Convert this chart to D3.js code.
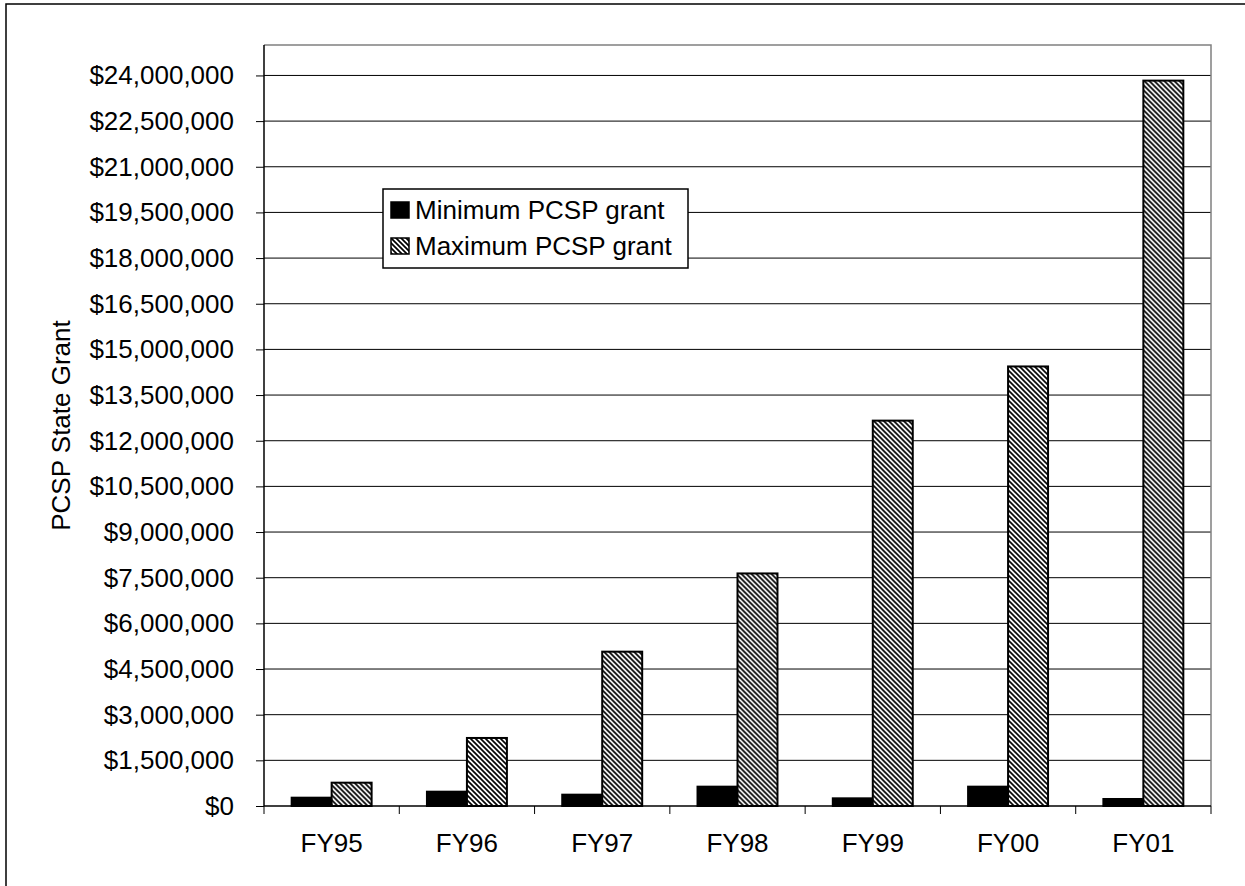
<!DOCTYPE html>
<html>
<head>
<meta charset="utf-8">
<script src="https://cdn.jsdelivr.net/npm/d3@7"></script>
<style>
  body { margin: 0; background: #fff; }
  svg { display: block; font-family: "Liberation Sans", Arial, sans-serif; }
</style>
</head>
<body>
<div id="chart"></div>
<script>
// chart data
const categories = ["FY95", "FY96", "FY97", "FY98", "FY99", "FY00", "FY01"];
const seriesNames = ["Minimum PCSP grant", "Maximum PCSP grant"];
const minGrant = [273000, 470000, 372000, 635000, 252000, 635000, 230000];
const maxGrant = [766000, 2235000, 5070000, 7640000, 12660000, 14440000, 23830000];
const yTicks = d3.range(0, 24000001, 1500000);
const yTitle = "PCSP State Grant";

const width = 1245, height = 886;
const plot = { left: 264, top: 45, right: 1211, bottom: 806 };

const svg = d3.select("#chart").append("svg")
    .attr("width", width)
    .attr("height", height);

// hatch pattern for the max series
const defs = svg.append("defs");
const pat = defs.append("pattern")
    .attr("id", "hatch")
    .attr("patternUnits", "userSpaceOnUse")
    .attr("width", 5).attr("height", 5);
pat.append("rect").attr("width", 5).attr("height", 5).attr("fill", "#fff");
pat.append("path")
    .attr("d", "M-1,-1 L6,6 M-4,1 L1,6 M4,-1 L6,1")
    .attr("stroke", "#000")
    .attr("stroke-width", 1.7);

// outer chart border
svg.append("rect")
    .attr("x", 6).attr("y", 4)
    .attr("width", width + 10).attr("height", height + 10)
    .attr("fill", "none")
    .attr("stroke", "#000")
    .attr("stroke-width", 1.5);

const x0 = d3.scaleBand()
    .domain(categories)
    .range([plot.left, plot.right])
    .paddingInner(0.409)
    .paddingOuter(0.2045);

const x1 = d3.scaleBand()
    .domain(seriesNames)
    .range([0, x0.bandwidth()]);

const y = d3.scaleLinear()
    .domain([0, 25000000])
    .range([plot.bottom, plot.top]);

const fmt = v => "$" + d3.format(",")(v);

// gridlines
svg.append("g")
    .selectAll("line")
    .data(yTicks.filter(d => d > 0))
    .enter().append("line")
    .attr("x1", plot.left).attr("x2", plot.right)
    .attr("y1", d => y(d)).attr("y2", d => y(d))
    .attr("stroke", "#000")
    .attr("stroke-width", 1);

// plot area border (top and right)
svg.append("path")
    .attr("d", `M${plot.left},${plot.top} H${plot.right} V${plot.bottom}`)
    .attr("fill", "none")
    .attr("stroke", "#808080")
    .attr("stroke-width", 1.5);

// bars
const rows = categories.map((c, i) => ({ cat: c, vals: [minGrant[i], maxGrant[i]] }));
const groups = svg.append("g")
    .selectAll("g")
    .data(rows)
    .enter().append("g")
    .attr("transform", d => "translate(" + x0(d.cat) + ",0)");

groups.selectAll("rect")
    .data(d => d.vals.map((v, k) => ({ key: seriesNames[k], k: k, v: v })))
    .enter().append("rect")
    .attr("x", d => x1(d.key))
    .attr("width", x1.bandwidth())
    .attr("y", d => y(d.v))
    .attr("height", d => plot.bottom - y(d.v))
    .attr("fill", d => d.k === 0 ? "#000" : "url(#hatch)")
    .attr("stroke", "#000")
    .attr("stroke-width", 2);

// y axis
const yAxis = svg.append("g")
    .attr("transform", "translate(" + plot.left + ",0)")
    .call(d3.axisLeft(y).tickValues(yTicks).tickFormat(fmt).tickSize(8).tickPadding(22));
yAxis.select(".domain").attr("d", `M0,${plot.top}V${plot.bottom}`).attr("stroke", "#000").attr("stroke-width", 1.5);
yAxis.selectAll("text").attr("font-size", 26).attr("fill", "#000")
    .attr("font-family", "'Liberation Sans', Arial, sans-serif");

// x axis: ticks at category boundaries
const xAxis = svg.append("g")
    .attr("transform", "translate(0," + plot.bottom + ")");
xAxis.append("line")
    .attr("x1", plot.left).attr("x2", plot.right)
    .attr("stroke", "#000").attr("stroke-width", 1.5);
const step = x0.step();
xAxis.selectAll(".tick")
    .data(d3.range(categories.length + 1))
    .enter().append("line")
    .attr("x1", i => plot.left + i * step).attr("x2", i => plot.left + i * step)
    .attr("y1", 0).attr("y2", 8)
    .attr("stroke", "#000").attr("stroke-width", 1);
xAxis.selectAll("text")
    .data(categories)
    .enter().append("text")
    .attr("x", d => x0(d) + x0.bandwidth() / 2)
    .attr("y", 46)
    .attr("text-anchor", "middle")
    .attr("font-size", 26)
    .text(d => d);

// y axis title
svg.append("text")
    .attr("transform", "translate(70," + ((plot.top + plot.bottom) / 2) + ") rotate(-90)")
    .attr("text-anchor", "middle")
    .attr("font-size", 26)
    .text(yTitle);

// legend
const legend = svg.append("g").attr("transform", "translate(383,189)");
legend.append("rect")
    .attr("width", 305).attr("height", 79)
    .attr("fill", "#fff")
    .attr("stroke", "#000")
    .attr("stroke-width", 1.5);
seriesNames.forEach((name, k) => {
    const row = legend.append("g").attr("transform", "translate(0," + (k * 36) + ")");
    row.append("rect")
        .attr("x", 8).attr("y", 13)
        .attr("width", 18).attr("height", 16)
        .attr("fill", k === 0 ? "#000" : "url(#hatch)")
        .attr("stroke", "#000")
        .attr("stroke-width", 1.5);
    row.append("text")
        .attr("x", 32).attr("y", 30)
        .attr("font-size", 26)
        .text(name);
});
</script>
</body>
</html>
